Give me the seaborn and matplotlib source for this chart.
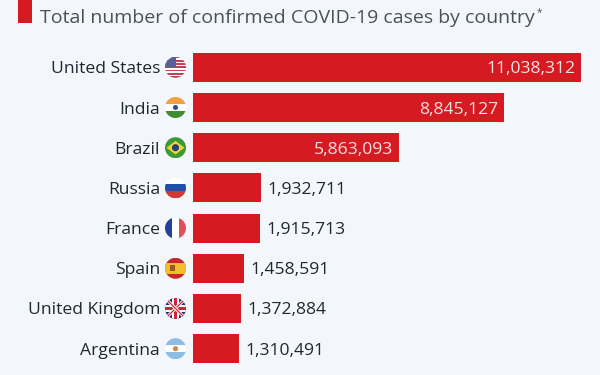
import pandas as pd
import matplotlib.pyplot as plt
import seaborn as sns
from matplotlib.patches import Circle, Rectangle, Polygon

countries = ["United States", "India", "Brazil", "Russia", "France", "Spain", "United Kingdom", "Argentina"]
cases = [11038312, 8845127, 5863093, 1932711, 1915713, 1458591, 1372884, 1310491]
inside = ["United States", "India", "Brazil"]

bg = "#F3F6FA"
red = "#D61A21"

sns.set_theme(style="white")
plt.rcParams['font.family'] = ['Open Sans', 'DejaVu Sans']

df = pd.DataFrame({"country": countries, "cases": cases})

W, H = 600, 375
fig = plt.figure(figsize=(6, 3.75), dpi=100, facecolor=bg)
# axes box in pixels, so that bars land where they do in the picture
top, step = 47.2, 40.2
ax = fig.add_axes([192.5 / W, 1 - (top + 8 * step) / H, (W - 192.5) / W, 8 * step / H])
ax.set_facecolor("none")

sns.barplot(data=df, x="cases", y="country", color=red, saturation=1, width=0.72, linewidth=0, ax=ax)
ax.set_xlim(0, 407.5 / (388.5 / cases[0]))
ax.set_ylim(7.5, -0.5)
ax.set_xlabel("")
ax.set_ylabel("")
ax.set_xticks([])
sns.despine(ax=ax, left=True, bottom=True)
ax.tick_params(axis="y", length=0, pad=23.4, labelsize=12.6, labelcolor="#1E2830")

for i, (c, v) in enumerate(zip(countries, cases)):
    if c in inside:
        ax.annotate(f"{v:,}", (v, i), xytext=(-4.3, 0), textcoords="offset points", ha="right",
                    va="center_baseline", color="#F7E3E3", fontsize=12.6)
    else:
        ax.annotate(f"{v:,}", (v, i), xytext=(5, 0), textcoords="offset points", ha="left",
                    va="center_baseline", color="#1E2830", fontsize=12.6)


def box(a, x, y, w, h, col):
    a.add_patch(Rectangle((x, y), w, h, facecolor=col, linewidth=0))


# small round flags
def flag_us(a):
    for k in range(7):
        box(a, -1, -1 + k * 2 / 6.5, 2, 1 / 6.5, "#C8404F")
    box(a, -1, 0, 1, 1, "#5B5F96")


def flag_in(a):
    box(a, -1, 0.33, 2, 0.7, "#F0A03C")
    box(a, -1, -1, 2, 0.67, "#3F8A35")
    a.add_patch(Circle((0, 0), 0.24, facecolor="#2F4F8F", linewidth=0))


def flag_br(a):
    box(a, -1, -1, 2, 2, "#3B9A36")
    a.add_patch(Polygon([(-0.85, 0), (0, 0.65), (0.85, 0), (0, -0.65)], facecolor="#F2D531", linewidth=0))
    a.add_patch(Circle((0, 0), 0.34, facecolor="#24407F", linewidth=0))


def flag_ru(a):
    box(a, -1, -0.33, 2, 0.66, "#1F4FA8")
    box(a, -1, -1, 2, 0.67, "#D03A30")


def flag_fr(a):
    box(a, -1, -1, 0.67, 2, "#25409A")
    box(a, 0.33, -1, 0.67, 2, "#E0505A")


def flag_es(a):
    box(a, -1, -1, 2, 2, "#C8252C")
    box(a, -1, -0.5, 2, 1, "#F2BE2E")
    box(a, -0.55, -0.3, 0.5, 0.6, "#9A5A20")


def flag_uk(a):
    box(a, -1, -1, 2, 2, "#2B2F6E")
    for d in [1, -1]:
        a.plot([-1, 1], [-d, d], color="white", lw=2.2)
        a.plot([-1, 1], [-d, d], color="#C8273C", lw=0.9)
    box(a, -1, -0.3, 2, 0.6, "white")
    box(a, -0.3, -1, 0.6, 2, "white")
    box(a, -1, -0.16, 2, 0.32, "#C8273C")
    box(a, -0.16, -1, 0.32, 2, "#C8273C")


def flag_ar(a):
    box(a, -1, -1, 2, 2, "#8DBDE6")
    box(a, -1, -0.33, 2, 0.66, "white")
    a.add_patch(Circle((0, 0), 0.25, facecolor="#C9923A", linewidth=0))


flags = [flag_us, flag_in, flag_br, flag_ru, flag_fr, flag_es, flag_uk, flag_ar]
for i, draw in enumerate(flags):
    cy = top + step * (i + 0.5)
    fa = fig.add_axes([165 / W, 1 - (cy + 10.5) / H, 21 / W, 21 / H])
    fa.set_xlim(-1, 1)
    fa.set_ylim(-1, 1)
    fa.axis("off")
    clip = Circle((0, 0), 1, facecolor="white", linewidth=0, zorder=0)
    fa.add_patch(clip)
    draw(fa)
    for art in fa.patches + fa.lines:
        art.set_clip_path(clip)

# title with its red square
fig.add_artist(Rectangle((18 / W, 1 - 23 / H), 14 / W, 23 / H, facecolor=red, linewidth=0, transform=fig.transFigure))
fig.text(40 / W, 1 - 16 / H, "Total number of confirmed COVID-19 cases by country", fontsize=14,
         color="#4A5258", ha="left", va="center_baseline")
fig.text(537 / W, 1 - 11 / H, "*", fontsize=7, color="#4A5258", ha="left", va="center_baseline")

plt.savefig("out.png", dpi=100, facecolor=bg)
